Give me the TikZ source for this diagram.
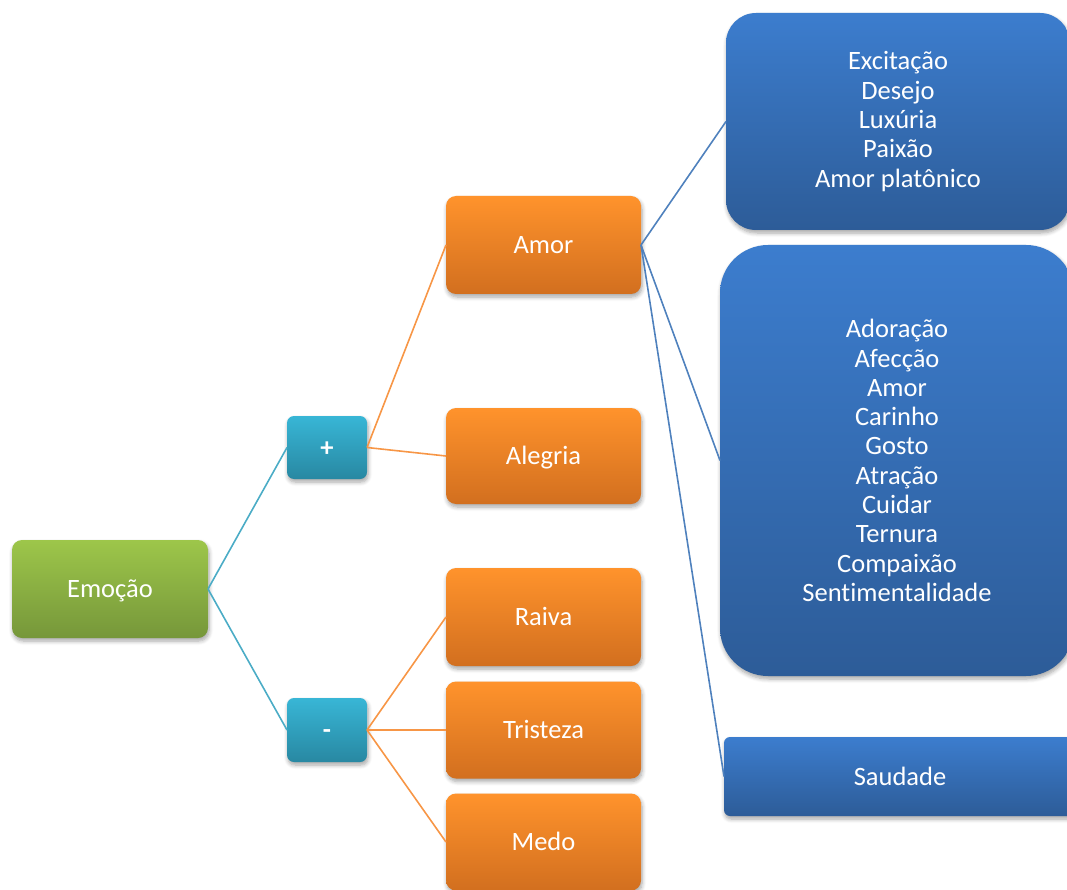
\documentclass[tikz,border=0pt]{standalone}
\usepackage{fontspec}
\setmainfont{Carlito}[Ligatures=NoCommon]
\usetikzlibrary{shadows.blur}

\definecolor{grnTop}{HTML}{9DC64A}
\definecolor{grnBot}{HTML}{76973A}
\definecolor{tealTop}{HTML}{38B6D6}
\definecolor{tealBot}{HTML}{2888A2}
\definecolor{orgTop}{HTML}{FF932C}
\definecolor{orgBot}{HTML}{D26F1F}
\definecolor{bluTop}{HTML}{3C7DCE}
\definecolor{bluBot}{HTML}{2D5C98}
\definecolor{tealLine}{HTML}{4BACC6}
\definecolor{orgLine}{HTML}{F79646}
\definecolor{bluLine}{HTML}{4F81BD}

\tikzset{
  box/.style={inner sep=0pt, outer sep=0pt, align=center, text=white,
    font=\fontsize{26.5}{29.3}\selectfont,
    blur shadow={shadow xshift=1pt, shadow yshift=-3pt, shadow blur steps=6,
      shadow blur radius=4pt, shadow opacity=35}},
  oneline/.style={text height=17pt, text depth=0pt},
  rootbox/.style={box, oneline, rounded corners=10pt, top color=grnTop, bottom color=grnBot},
  signbox/.style={box, oneline, rounded corners=7pt, top color=tealTop, bottom color=tealBot,
    font=\fontsize{26.5}{29.3}\selectfont\bfseries},
  catbox/.style={box, oneline, rounded corners=10pt, top color=orgTop, bottom color=orgBot},
  leafbox/.style={box, top color=bluTop, bottom color=bluBot},
  linkA/.style={draw=tealLine, line width=1.6pt},
  linkB/.style={draw=orgLine, line width=1.6pt},
  linkC/.style={draw=bluLine, line width=1.6pt},
}

\begin{document}
\begin{tikzpicture}[x=1pt, y=-1pt]
\useasboundingbox (0,0) rectangle (1067,890);

% root
\node[rootbox, minimum width=196pt, minimum height=98pt] (emo) at (110,589) {Emoção};

% sign level
\node[signbox, minimum width=80pt, minimum height=63pt] (pos) at (327,447.5) {+};
\node[signbox, minimum width=80pt, minimum height=64pt] (neg) at (327,730) {-};

% emotion categories
\node[catbox, minimum width=195pt, minimum height=98pt] (amor) at (543.5,245) {Amor};
\node[catbox, minimum width=195pt, minimum height=96pt] (alegria) at (543.5,456) {Alegria};
\node[catbox, minimum width=195pt, minimum height=98pt] (raiva) at (543.5,617) {Raiva};
\node[catbox, minimum width=195pt, minimum height=97pt] (tristeza) at (543.5,730) {Tristeza};
\node[catbox, minimum width=195pt, minimum height=97pt] (medo) at (543.5,842) {Medo};

% kinds of love
\node[leafbox, rounded corners=30pt, minimum width=344pt, minimum height=217pt] (paixao) at (898,121.5)
  {Excitação\\Desejo\\Luxúria\\Paixão\\Amor platônico};
\node[leafbox, rounded corners=48pt, minimum width=354pt, minimum height=431pt] (afeto) at (897,460.5)
  {Adoração\\Afecção\\Amor\\Carinho\\Gosto\\Atração\\Cuidar\\Ternura\\Compaixão\\Sentimentalidade};
\node[leafbox, oneline, rounded corners=6pt, minimum width=352pt, minimum height=79pt] (saudade) at (900,776.5) {Saudade};

% connectors
\draw[linkA] (emo.east) -- (pos.west);
\draw[linkA] (emo.east) -- (neg.west);
\draw[linkB] (pos.east) -- (amor.west);
\draw[linkB] (pos.east) -- (alegria.west);
\draw[linkB] (neg.east) -- (raiva.west);
\draw[linkB] (neg.east) -- (tristeza.west);
\draw[linkB] (neg.east) -- (medo.west);
\draw[linkC] (amor.east) -- (paixao.west);
\draw[linkC] (amor.east) -- (afeto.west);
\draw[linkC] (amor.east) -- (saudade.west);
\end{tikzpicture}
\end{document}
